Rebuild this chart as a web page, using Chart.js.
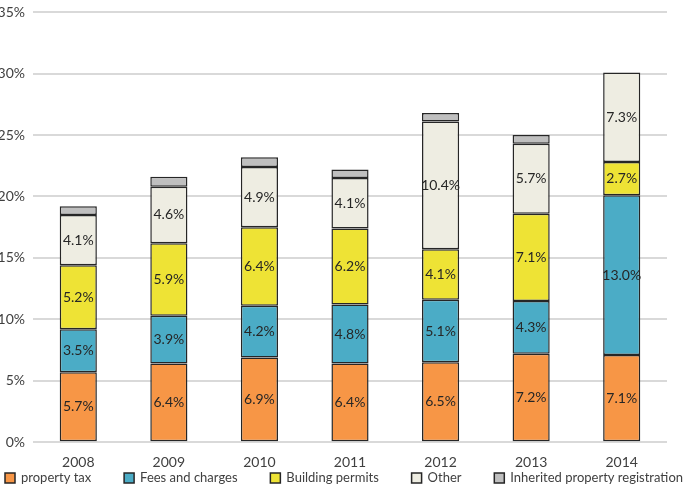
<!DOCTYPE html>
<html>
<head>
<meta charset="utf-8">
<script src="https://cdn.jsdelivr.net/npm/chart.js@4"></script>
<style>
  html, body { margin: 0; padding: 0; background: #fff; }
  #wrap { width: 685px; height: 486px; }
</style>
</head>
<body>
<div id="wrap"><canvas id="chart"></canvas></div>
<script>
// Values (percent)
const years = ['2008', '2009', '2010', '2011', '2012', '2013', '2014'];
const propertyTax = [5.7, 6.4, 6.9, 6.4, 6.5, 7.2, 7.1];
const feesCharges = [3.5, 3.9, 4.2, 4.8, 5.1, 4.3, 13.0];
const buildingPermits = [5.2, 5.9, 6.4, 6.2, 4.1, 7.1, 2.7];
const other = [4.1, 4.6, 4.9, 4.1, 10.4, 5.7, 7.3];
const inherited = [0.7, 0.8, 0.8, 0.7, 0.7, 0.7, 0.0];
const yTicks = [0, 5, 10, 15, 20, 25, 30, 35];

const fontFamily = 'Lato, "Open Sans", sans-serif';
const textColor = '#404040';

function makeSet(label, data, color, showLabel) {
    return {
        label: label,
        data: data,
        backgroundColor: color,
        borderColor: '#262626',
        borderWidth: 1.5,
        borderSkipped: false,
        barPercentage: 0.41,
        categoryPercentage: 1.0,
        showLabel: showLabel
    };
}

// draw value text in the middle of each segment
const segmentLabels = {
    id: 'segmentLabels',
    afterDatasetsDraw(chart) {
        const ctx = chart.ctx;
        ctx.save();
        ctx.font = '14px ' + fontFamily;
        ctx.fillStyle = '#262626';
        ctx.textAlign = 'center';
        ctx.textBaseline = 'middle';
        chart.data.datasets.forEach((ds, i) => {
            if (!ds.showLabel) return;
            chart.getDatasetMeta(i).data.forEach((bar, j) => {
                const v = ds.data[j];
                const p = bar.getProps(['x', 'y', 'base'], true);
                ctx.fillText(v.toFixed(1) + '%', p.x, (p.y + p.base) / 2);
            });
        });
        ctx.restore();
    }
};

// legend along the bottom, spread across the width like the original
const bottomLegend = {
    id: 'bottomLegend',
    afterDraw(chart) {
        const ctx = chart.ctx;
        const box = 10, gap = 6, left = 5, right = 683, y = 478;
        ctx.save();
        ctx.font = '13px ' + fontFamily;
        const items = chart.data.datasets.map(ds => ({
            ds: ds, w: box + gap + ctx.measureText(ds.label).width
        }));
        const used = items.reduce((s, it) => s + it.w, 0);
        const itemGap = (right - left - used) / (items.length - 1);
        let x = left;
        ctx.textBaseline = 'middle';
        ctx.textAlign = 'left';
        items.forEach(it => {
            ctx.fillStyle = it.ds.backgroundColor;
            ctx.fillRect(x, y - box / 2, box, box);
            ctx.strokeStyle = '#262626';
            ctx.lineWidth = 1.5;
            ctx.strokeRect(x, y - box / 2, box, box);
            ctx.fillStyle = textColor;
            ctx.fillText(it.ds.label, x + box + gap, y);
            x += it.w + itemGap;
        });
        ctx.restore();
    }
};

const ctx = document.getElementById('chart').getContext('2d');
new Chart(ctx, {
    type: 'bar',
    data: {
        labels: years,
        datasets: [
            makeSet('property tax', propertyTax, '#F79646', true),
            makeSet('Fees and charges', feesCharges, '#4BACC6', true),
            makeSet('Building permits', buildingPermits, '#EEE335', true),
            makeSet('Other', other, '#EEEDE2', true),
            makeSet('Inherited property registration', inherited, '#BFBFBF', false)
        ]
    },
    options: {
        responsive: true,
        maintainAspectRatio: false,
        animation: false,
        layout: { padding: { top: 4, right: 18, left: 0, bottom: 11 } },
        plugins: {
            legend: { display: false },
            tooltip: { enabled: false }
        },
        scales: {
            x: {
                stacked: true,
                grid: { display: false },
                border: { display: false },
                ticks: { color: textColor, font: { family: fontFamily, size: 14 }, padding: 4 }
            },
            y: {
                stacked: true,
                min: 0,
                max: 35,
                afterBuildTicks(scale) {
                    scale.ticks = yTicks.map(v => ({ value: v }));
                },
                afterFit(scale) { scale.width = 33; },
                grid: { color: '#D9D9D9', lineWidth: 2, drawTicks: false },
                border: { display: false },
                ticks: {
                    color: textColor,
                    padding: 8,
                    font: { family: fontFamily, size: 14, lineHeight: 0.6 },
                    callback: v => v + '%'
                }
            }
        }
    },
    plugins: [segmentLabels, bottomLegend]
});
</script>
</body>
</html>
